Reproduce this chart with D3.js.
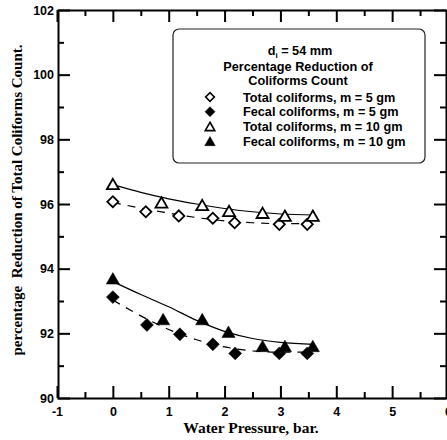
<!DOCTYPE html>
<html>
<head>
<meta charset="utf-8">
<script src="https://cdn.jsdelivr.net/npm/d3@7"></script>
<style>
  body { margin: 0; background: #fff; }
  svg { display: block; }
</style>
</head>
<body>
<svg id="svg1"></svg>
<script>
// data
var xTicks = [-1, 0, 1, 2, 3, 4, 5, 6];
var yTicks = [90, 92, 94, 96, 98, 100, 102];

var totalX5 = [0, 0.59, 1.18, 1.79, 2.18, 2.98, 3.48];
var total5 = [96.07, 95.76, 95.63, 95.56, 95.42, 95.37, 95.37];
var fecalX5 = [0, 0.61, 1.2, 1.79, 2.19, 2.98, 3.48];
var fecal5 = [93.12, 92.26, 91.97, 91.66, 91.38, 91.38, 91.38];
var totalX10 = [0, 0.87, 1.6, 2.08, 2.68, 3.08, 3.58];
var total10 = [96.62, 96.05, 95.97, 95.79, 95.73, 95.64, 95.64];
var fecalX10 = [0, 0.9, 1.6, 2.07, 2.68, 3.08, 3.58];
var fecal10 = [93.7, 92.44, 92.44, 92.05, 91.61, 91.61, 91.61];

// fitted curves (traced)
var fitX5 = [0, 0.5, 1, 1.5, 2, 2.5, 3, 3.5];
var fitTotal5 = [96.05, 95.87, 95.72, 95.58, 95.48, 95.42, 95.39, 95.39];
var fitFecal5 = [93.03, 92.54, 92.12, 91.8, 91.58, 91.46, 91.42, 91.42];
var fitX10 = [0, 0.5, 1, 1.5, 2, 2.5, 3, 3.6];
var fitTotal10 = [96.6, 96.36, 96.16, 96.0, 95.86, 95.76, 95.69, 95.66];
var fitFecal10 = [93.6, 93.2, 92.82, 92.4, 92.06, 91.84, 91.72, 91.66];

var legendTitle = ["Percentage Reduction of", "Coliforms Count"];
var legendLabels = ["Total coliforms, m = 5 gm", "Fecal coliforms, m = 5 gm",
                    "Total coliforms, m = 10 gm", "Fecal coliforms, m = 10 gm"];

var W = 447, H = 440;
var L = 58, R = 448, T = 10, B = 398;

var svg = d3.select("#svg1").attr("width", W).attr("height", H);

var x = d3.scaleLinear().domain([-1, 6]).range([L - 1, R]);
var y = d3.scaleLinear().domain([90, 102]).range([B, T]);

var minorX = d3.range(-0.5, 6, 1);
var minorY = d3.range(91, 102, 2);

var tickFont = "'Liberation Sans', Arial, sans-serif";

function styleAxis(g) {
  g.select(".domain").attr("stroke", "#000").attr("stroke-width", 2);
  g.selectAll(".tick line").attr("stroke", "#000").attr("stroke-width", 2);
  g.selectAll(".tick text").attr("fill", "#000")
    .style("font-family", tickFont).style("font-weight", "bold").style("font-size", "12.5px");
}

// bottom
svg.append("g").attr("transform", `translate(0,${B})`)
  .call(d3.axisBottom(x).tickValues(xTicks).tickSizeInner(-12).tickSizeOuter(0).tickPadding(9).tickFormat(d => String(d)))
  .call(styleAxis);
svg.append("g").attr("transform", `translate(0,${B})`)
  .call(d3.axisBottom(x).tickValues(minorX).tickSize(-6).tickFormat(""))
  .call(styleAxis).select(".domain").remove();
// top
svg.append("g").attr("transform", `translate(0,${T})`)
  .call(d3.axisTop(x).tickValues(xTicks).tickSizeInner(-12).tickSizeOuter(0).tickFormat(""))
  .call(styleAxis);
svg.append("g").attr("transform", `translate(0,${T})`)
  .call(d3.axisTop(x).tickValues(minorX).tickSize(-6).tickFormat(""))
  .call(styleAxis).select(".domain").remove();
// left
svg.append("g").attr("transform", `translate(${L},0)`)
  .call(d3.axisLeft(y).tickValues(yTicks).tickSizeInner(-12).tickSizeOuter(0).tickPadding(4).tickFormat(d => String(d)))
  .call(styleAxis);
svg.append("g").attr("transform", `translate(${L},0)`)
  .call(d3.axisLeft(y).tickValues(minorY).tickSize(-6).tickFormat(""))
  .call(styleAxis).select(".domain").remove();
// right
svg.append("g").attr("transform", `translate(${W - 1},0)`)
  .call(d3.axisRight(y).tickValues(yTicks).tickSizeInner(-12).tickSizeOuter(0).tickFormat(""))
  .call(styleAxis);
svg.append("g").attr("transform", `translate(${W - 1},0)`)
  .call(d3.axisRight(y).tickValues(minorY).tickSize(-6).tickFormat(""))
  .call(styleAxis).select(".domain").remove();

// axis titles
svg.append("text")
  .attr("x", 251).attr("y", 433)
  .attr("text-anchor", "middle")
  .style("font-family", "'Liberation Serif', 'Times New Roman', serif")
  .style("font-weight", "bold").style("font-size", "15.5px")
  .text("Water Pressure, bar.");

svg.append("text")
  .attr("transform", "translate(22,200) rotate(-90)")
  .attr("text-anchor", "middle")
  .style("font-family", "'Liberation Serif', 'Times New Roman', serif")
  .style("font-weight", "bold").style("font-size", "15px")
  .style("white-space", "pre")
  .text("percentage  Reduction of Total Coliforms Count.");

// fitted curves
var line = d3.line().curve(d3.curveMonotoneX)
  .x(d => x(d[0])).y(d => y(d[1]));
var curves = [
  { xs: fitX5, ys: fitTotal5, dash: "8,7" },
  { xs: fitX5, ys: fitFecal5, dash: "8,7" },
  { xs: fitX10, ys: fitTotal10, dash: null },
  { xs: fitX10, ys: fitFecal10, dash: null }
];
curves.forEach(function(c) {
  svg.append("path")
    .datum(c.xs.map((v, i) => [v, c.ys[i]]))
    .attr("d", line)
    .attr("fill", "none")
    .attr("stroke", "#000")
    .attr("stroke-width", 1.2)
    .attr("stroke-dasharray", c.dash);
});

// markers
var diamondOpen = d3.symbol().type(d3.symbolSquare).size(62);
var diamondFill = d3.symbol().type(d3.symbolSquare).size(84);
var tri = d3.symbol().type(d3.symbolTriangle).size(62);
var triFill = d3.symbol().type(d3.symbolTriangle).size(76);

var series = [
  { xs: totalX5, ys: total5, sym: diamondOpen, fill: "#fff", rot: 45, dy: 0 },
  { xs: fecalX5, ys: fecal5, sym: diamondFill, fill: "#000", rot: 45, dy: 0 },
  { xs: totalX10, ys: total10, sym: tri, fill: "#fff", rot: 0, dy: 1.8 },
  { xs: fecalX10, ys: fecal10, sym: triFill, fill: "#000", rot: 0, dy: 1.9 }
];
series.forEach(function(s) {
  svg.append("g").selectAll("path")
    .data(s.xs.map((v, i) => [v, s.ys[i]]))
    .enter().append("path")
    .attr("d", s.sym)
    .attr("transform", d => `translate(${x(d[0])},${y(d[1]) + s.dy}) rotate(${s.rot})`)
    .attr("fill", s.fill)
    .attr("stroke", "#000")
    .attr("stroke-width", s.fill === "#000" ? 0.5 : 1.8);
});

// legend
var lg = svg.append("g");
lg.append("rect")
  .attr("x", 173).attr("y", 29).attr("width", 252).attr("height", 134)
  .attr("rx", 6).attr("ry", 6)
  .attr("fill", "#fff").attr("stroke", "#222").attr("stroke-width", 1.2);

var lgFont = function(t) {
  return t.style("font-family", tickFont).style("font-weight", "bold").style("font-size", "12.7px");
};
var dt = lg.append("text").attr("x", 300).attr("y", 55).attr("text-anchor", "middle").call(lgFont);
dt.append("tspan").text("d");
dt.append("tspan").attr("dy", 3).style("font-size", "8px").text("i");
dt.append("tspan").attr("dy", -3).text(" = 54 mm");

lg.selectAll(".lt").data(legendTitle).enter().append("text")
  .attr("x", 298).attr("y", (d, i) => 71 + i * 14)
  .attr("text-anchor", "middle").call(lgFont).text(d => d);

var lgSyms = [
  { sym: d3.symbol().type(d3.symbolSquare).size(38), fill: "#fff", rot: 45, dy: 0 },
  { sym: d3.symbol().type(d3.symbolSquare).size(50), fill: "#000", rot: 45, dy: 0 },
  { sym: d3.symbol().type(d3.symbolTriangle).size(40), fill: "#fff", rot: 0, dy: 1.4 },
  { sym: d3.symbol().type(d3.symbolTriangle).size(48), fill: "#000", rot: 0, dy: 1.5 }
];
legendLabels.forEach(function(lab, i) {
  var cy = 97 + i * 14.7;
  var s = lgSyms[i];
  lg.append("path").attr("d", s.sym)
    .attr("transform", `translate(210,${cy + s.dy}) rotate(${s.rot})`)
    .attr("fill", s.fill).attr("stroke", "#000")
    .attr("stroke-width", s.fill === "#000" ? 0.5 : 1.6);
  lg.append("text").attr("x", 243).attr("y", cy + 4.5).call(lgFont).text(lab);
});
</script>
</body>
</html>
